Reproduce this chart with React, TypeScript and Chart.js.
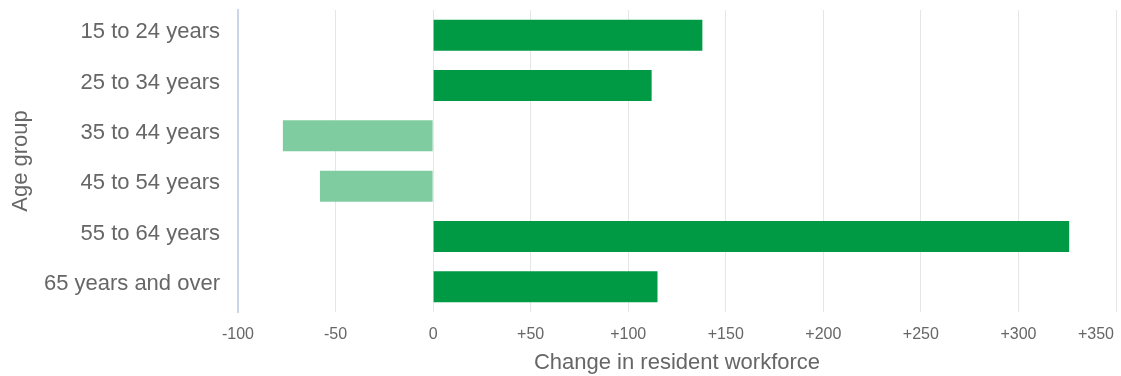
import React, { useEffect, useRef } from "react";
import { Chart, registerables } from "chart.js";

Chart.register(...registerables);

const categories = [
  "15 to 24 years",
  "25 to 34 years",
  "35 to 44 years",
  "45 to 54 years",
  "55 to 64 years",
  "65 years and over",
];
const changeValues = [138, 112, -77, -58, 326, 115];
const xMin = -100;
const xMax = 350;
const xStep = 50;
const xTitle = "Change in resident workforce";
const yTitle = "Age group";

const POS = "#009a44";
const NEG = "#80cca1";
const FONT = "'Liberation Sans', Arial, sans-serif";

export default function App() {
  const ref = useRef<HTMLCanvasElement | null>(null);
  useEffect(() => {
    if (!ref.current) return;
    const chart = new Chart(ref.current, {
      type: "bar",
      data: {
        labels: categories,
        datasets: [
          {
            data: changeValues,
            backgroundColor: changeValues.map((v) => (v >= 0 ? POS : NEG)),
            borderWidth: 0,
            categoryPercentage: 0.8,
            barPercentage: 0.77,
          },
        ],
      },
      options: {
        indexAxis: "y",
        animation: false,
        responsive: true,
        maintainAspectRatio: false,
        layout: { padding: { top: 10, right: 5, bottom: 0, left: 0 } },
        plugins: { legend: { display: false }, tooltip: { enabled: false } },
        scales: {
          x: {
            min: xMin,
            max: xMax,
            grid: {
              color: (c: any) =>
                c.tick && c.tick.value === xMin ? "rgba(0,0,0,0)" : "#e6e6e6",
              drawTicks: false,
              lineWidth: 1,
            },
            border: { display: false },
            ticks: {
              stepSize: xStep,
              autoSkip: false,
              maxRotation: 0,
              padding: 13,
              color: "#666666",
              font: { family: FONT, size: 16 },
              callback: (v: any) => {
                const n = Number(v);
                const s = n > 0 ? "+" + n : String(n);
                return n === xMax ? s + "\u00a0".repeat(9) : s;
              },
            },
            title: {
              display: true,
              text: xTitle,
              color: "#666666",
              font: { family: FONT, size: 22 },
              padding: { top: 0, bottom: 0 },
            },
            afterFit: (s: any) => {
              s.height = 64;
              s.paddingLeft = 0;
              s.paddingRight = 0;
            },
          },
          y: {
            grid: { display: false, drawTicks: false },
            border: { display: true, color: "#ccd6eb", width: 2 },
            ticks: {
              padding: 18,
              labelOffset: -3,
              color: "#666666",
              font: { family: FONT, size: 22 },
            },
            title: {
              display: true,
              text: yTitle,
              color: "#666666",
              font: { family: FONT, size: 22 },
              padding: { top: 8, bottom: 0 },
            },
            afterFit: (s: any) => {
              s.width = 238;
              s.paddingTop = 0;
              s.paddingBottom = 0;
            },
          },
        },
      },
    });
    return () => chart.destroy();
  }, []);
  return (
    <div
      style={{
        position: "fixed",
        left: 0,
        top: 0,
        width: 1121,
        height: 376,
        background: "#ffffff",
      }}
    >
      <canvas ref={ref} />
    </div>
  );
}
